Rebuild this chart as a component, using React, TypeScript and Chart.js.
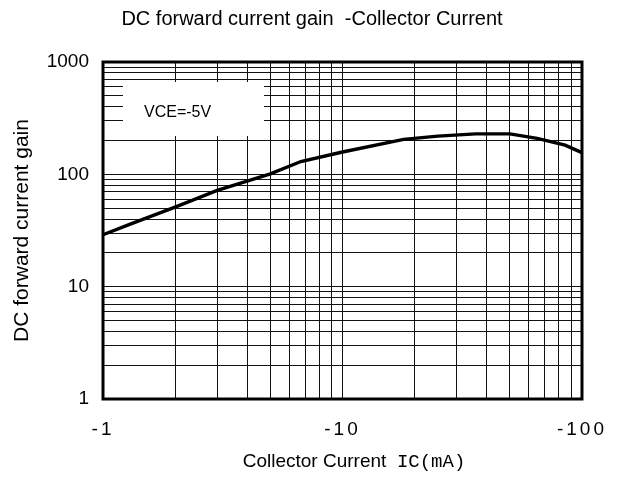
import React, { useEffect, useRef } from 'react';
import { Chart, registerables } from 'chart.js';

Chart.register(...registerables);

// ---- data ----
const collectorCurrentMA = [1, 1.3, 2, 3, 5, 6.7, 10, 18, 25, 36, 50, 65, 85, 100];
const dcCurrentGain = [29, 36, 51, 72, 101, 130, 158, 205, 219, 229, 229, 209, 182, 156];

const xGridValues = [1, 2, 3, 4, 5, 6, 7, 8, 9, 10, 20, 30, 40, 50, 60, 70, 80, 90, 100];
const yGridValues = [
  1, 2, 3, 4, 5, 6, 7, 8, 9,
  10, 20, 30, 40, 50, 60, 70, 80, 90,
  100, 200, 300, 400, 500, 600, 700, 800, 900,
  1000,
];
const xTickLabels: Record<number, string> = { 1: '-1', 10: '-10', 100: '-100' };
const yTickLabels: Record<number, string> = { 1: '1', 10: '10', 100: '100', 1000: '1000' };

const chartTitle = 'DC forward current gain  -Collector Current';
const xTitleMain = 'Collector Current  ';
const xTitleUnit = 'IC(mA)';
const yTitle = 'DC forward current gain';
const conditionLabel = 'VCE=-5V';

const SANS = '"Liberation Sans", Arial, sans-serif';
const MONO = '"Liberation Mono", "DejaVu Sans Mono", monospace';

const overlayPlugin = {
  id: 'overlay',
  beforeDraw(chart: any) {
    const sx = chart.scales.x;
    if (sx && !sx.__spaced) {
      const orig = sx.drawLabels.bind(sx);
      sx.drawLabels = (area: any) => {
        const c = chart.ctx as any;
        c.save();
        c.letterSpacing = '3px';
        orig(area);
        c.restore();
      };
      sx.__spaced = true;
    }
  },
  beforeDatasetsDraw(chart: any) {
    const { ctx, chartArea } = chart;
    ctx.save();
    // condition label box (white, covers grid)
    const bx = chartArea.left + 20;
    const by = chartArea.top + 20;
    ctx.fillStyle = '#ffffff';
    ctx.fillRect(bx, by, 141, 54);
    ctx.fillStyle = '#000';
    ctx.font = `16px ${SANS}`;
    ctx.textAlign = 'left';
    ctx.textBaseline = 'middle';
    ctx.fillText(conditionLabel, bx + 21, by + 31);
    ctx.restore();
  },
  afterDraw(chart: any) {
    const { ctx, chartArea } = chart;
    ctx.save();
    // frame
    ctx.strokeStyle = '#000';
    ctx.lineWidth = 3;
    ctx.strokeRect(chartArea.left, chartArea.top, chartArea.right - chartArea.left, chartArea.bottom - chartArea.top);
    // chart title
    ctx.fillStyle = '#000';
    ctx.textBaseline = 'middle';
    ctx.textAlign = 'center';
    ctx.font = `20px ${SANS}`;
    ctx.fillText(chartTitle, 312, 19);
    // x axis title (mixed fonts)
    ctx.font = `19px ${SANS}`;
    const w1 = ctx.measureText(xTitleMain).width;
    ctx.font = `19px ${MONO}`;
    const w2 = ctx.measureText(xTitleUnit).width;
    const startX = 354 - (w1 + w2) / 2;
    ctx.textAlign = 'left';
    ctx.font = `19px ${SANS}`;
    ctx.fillText(xTitleMain, startX, 462);
    ctx.font = `19px ${MONO}`;
    ctx.fillText(xTitleUnit, startX + w1, 462);
    ctx.restore();
  },
};

export default function App() {
  const canvasRef = useRef<HTMLCanvasElement | null>(null);

  useEffect(() => {
    const canvas = canvasRef.current;
    if (!canvas) return;
    const points = collectorCurrentMA.map((x, i) => ({ x, y: dcCurrentGain[i] }));
    const chart = new Chart(canvas, {
      type: 'line',
      data: {
        datasets: [
          {
            label: 'hFE',
            data: points,
            borderColor: '#000',
            borderWidth: 3.4,
            pointRadius: 0,
            tension: 0,
            fill: false,
          },
        ],
      },
      options: {
        animation: false,
        responsive: false,
        events: [],
        layout: { padding: { left: 0, right: 33, top: 62, bottom: 0 } },
        plugins: {
          legend: { display: false },
          title: { display: false },
          tooltip: { enabled: false },
        },
        scales: {
          x: {
            type: 'logarithmic',
            min: 1,
            max: 100,
            afterBuildTicks: (scale: any) => {
              scale.ticks = xGridValues.map((v) => ({ value: v }));
            },
            afterFit: (scale: any) => {
              scale.height = 82;
            },
            ticks: {
              autoSkip: false,
              maxRotation: 0,
              minRotation: 0,
              padding: 19,
              color: '#000',
              font: { family: SANS, size: 19, lineHeight: 1.2 },
              callback: (value: any) => xTickLabels[Number(value)] ?? '',
            },
            grid: { color: '#111', lineWidth: 1, drawTicks: false },
            border: { display: false },
          },
          y: {
            type: 'logarithmic',
            min: 1,
            max: 1000,
            afterBuildTicks: (scale: any) => {
              scale.ticks = yGridValues.map((v) => ({ value: v }));
            },
            afterFit: (scale: any) => {
              scale.width = 103;
            },
            ticks: {
              autoSkip: false,
              padding: 14,
              color: '#000',
              font: { family: SANS, size: 19, lineHeight: 1.2 },
              callback: (value: any) => yTickLabels[Number(value)] ?? '',
            },
            grid: { color: '#111', lineWidth: 1, drawTicks: false },
            border: { display: false },
            title: {
              display: true,
              text: yTitle,
              color: '#000',
              font: { family: SANS, size: 21, lineHeight: 1.2 },
              padding: { top: 10, bottom: 0 },
            },
          },
        },
      },
      plugins: [overlayPlugin],
    });
    return () => chart.destroy();
  }, []);

  return (
    <div style={{ position: 'fixed', left: 0, top: 0, width: 620, height: 481, background: '#fff' }}>
      <canvas ref={canvasRef} width={620} height={481} style={{ display: 'block' }} />
    </div>
  );
}
